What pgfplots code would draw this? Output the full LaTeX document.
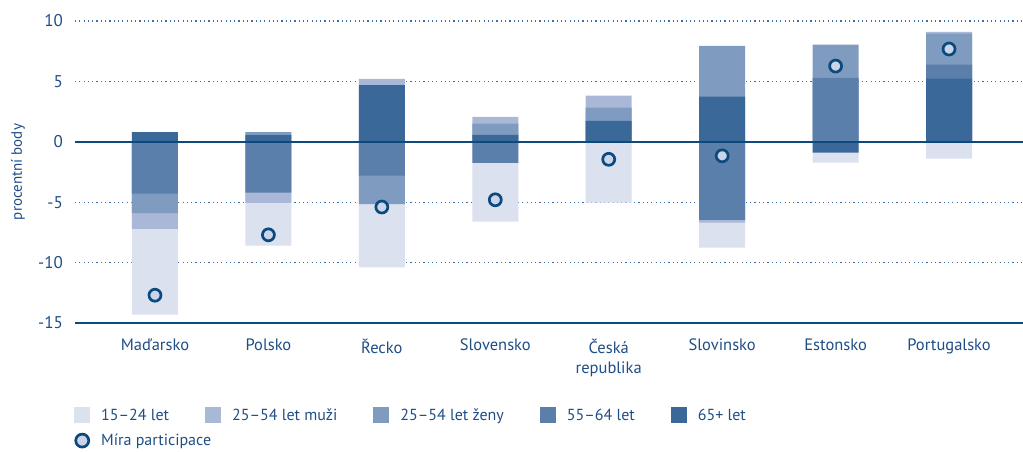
\documentclass[border=0pt]{standalone}
\usepackage{pgfplots}
\pgfplotsset{compat=1.18}
\usepackage{fontspec}
\setmainfont{PT Sans}
\definecolor{cA}{HTML}{DBE1EF}
\definecolor{cB}{HTML}{A9B8D6}
\definecolor{cC}{HTML}{7F9BC0}
\definecolor{cD}{HTML}{5B7FAB}
\definecolor{cE}{HTML}{3A6899}
\definecolor{txt}{HTML}{1F4E86}
\definecolor{navy}{HTML}{0C4A7E}
\definecolor{cfill}{HTML}{CAD5EA}
\definecolor{gridc}{HTML}{3D6EA5}
\pgfplotsset{
  mybar/.style={ybar, bar width=0.4055, bar shift=0pt, draw=none, fill=#1,
    legend image code/.code={\fill[fill=#1] (0pt,-8pt) rectangle (16pt,8pt);}},
}
\begin{document}
\begin{tikzpicture}
\useasboundingbox (0,0) rectangle (1023pt,451pt);
\begin{axis}[
  at={(75pt,128pt)}, anchor=south west,
  scale only axis, width=948pt, height=302pt,
  xmin=-0.705, xmax=7.652, ymin=-15, ymax=10,
  axis lines*=left,
  x axis line style={line width=2.6pt, navy},
  y axis line style={draw=none},
  major tick length=0pt,
  xtick={0,...,7},
  xticklabels={Maďarsko,Polsko,Řecko,Slovensko,{Česká\\republika},Slovinsko,Estonsko,Portugalsko},
  ytick={-15,-10,-5,0,5,10},
  ymajorgrids,
  grid style={gridc, line width=1.2pt, dash pattern=on 1.2pt off 3.1pt},
  /pgf/number format/assume math mode=true,
  tick label style={text=txt},
  yticklabel style={font=\fontsize{17}{20}\selectfont, inner sep=0pt, anchor=east, xshift=-12pt},
  xticklabel style={font=\fontsize{16.5}{20}\selectfont, align=center, inner sep=0pt, anchor=north, yshift=-16pt},
  ylabel={procentní body},
  ylabel style={at={(axis description cs:-0.0601,0.5)}, anchor=center, font=\fontsize{15}{18}\selectfont, text=txt},
  legend columns=5,
  legend cell align=left,
  legend style={draw=none, fill=none, at={(axis description cs:-0.001,-0.277)}, anchor=north west,
    font=\fontsize{16}{19}\selectfont, text=txt, inner sep=0pt, row sep=8pt,
    /tikz/every odd column/.append style={column sep=9pt},
    /tikz/every even column/.append style={column sep=34pt}},
]
\addplot[mybar=cA] coordinates {(0,-14.3)(1,-8.6)(2,-10.4)(3,-6.6)(4,-5.03)(5,-8.76)(6,-1.72)(7,-1.4)};
\addlegendentry{15–24 let}
\addplot[mybar=cB] coordinates {(0,-7.2)(1,-5.05)(2,5.2)(3,2.07)(4,3.82)(5,-6.7)(6,0)(7,9.1)};
\addlegendentry{25–54 let muži}
\addplot[mybar=cC] coordinates {(0,-5.9)(1,0.8)(2,-5.15)(3,1.5)(4,2.82)(5,7.95)(6,8.04)(7,8.95)};
\addlegendentry{25–54 let ženy}
\addplot[mybar=cD] coordinates {(0,-4.3)(1,-4.2)(2,-2.8)(3,-1.74)(4,0)(5,-6.46)(6,5.3)(7,6.38)};
\addlegendentry{55–64 let}
\addplot[mybar=cE] coordinates {(0,0.8)(1,0.55)(2,4.7)(3,0.58)(4,1.74)(5,3.73)(6,-0.89)(7,5.22)};
\addlegendentry{65+ let}
\addplot[navy, line width=1.5pt, forget plot] coordinates {(-0.705,0) (7.652,0)};
\addplot[only marks, mark=*, mark size=6pt, mark options={draw=navy, fill=cfill, line width=2.7pt},
  legend image code/.code={\draw[navy, fill=cfill, line width=2.7pt] (8pt,0pt) circle[radius=6.5pt];}]
  coordinates {(0,-12.7)(1,-7.7)(2,-5.4)(3,-4.8)(4,-1.45)(5,-1.16)(6,6.27)(7,7.68)};
\addlegendentry{\makebox[0pt][l]{Míra participace}}
\end{axis}
\end{tikzpicture}
\end{document}
